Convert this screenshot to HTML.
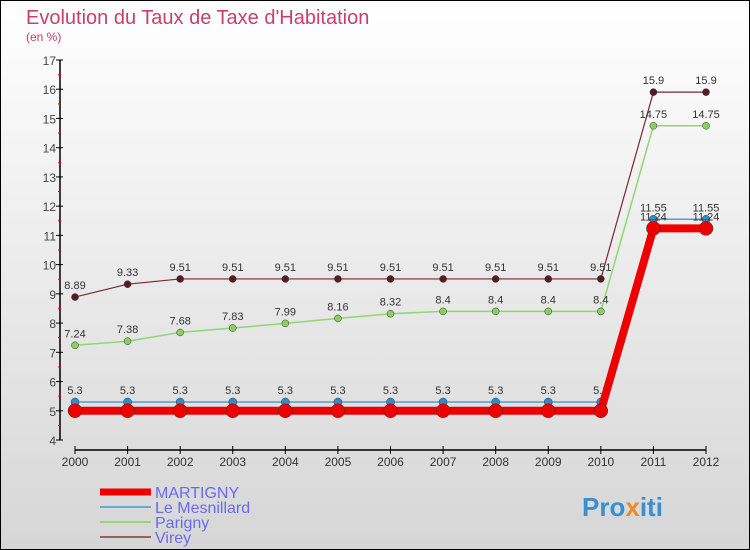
<!DOCTYPE html>
<html><head><meta charset="utf-8"><style>
body{margin:0}
svg{display:block;font-family:"Liberation Sans",sans-serif}
</style></head><body>
<svg width="750" height="550" xmlns="http://www.w3.org/2000/svg">
<defs><linearGradient id="bg" x1="0" y1="0" x2="0" y2="1"><stop offset="0" stop-color="#ffffff"/><stop offset="1" stop-color="#d6d6d6"/></linearGradient></defs>
<rect x="0.5" y="0.5" width="749" height="549" fill="url(#bg)" stroke="#000"/>
<text x="26" y="24" font-size="20" fill="#c8406a">Evolution du Taux de Taxe d'Habitation</text>
<text x="26" y="41" font-size="12" fill="#c8406a">(en %)</text>
<g id="axes"></g>
<g id="series"></g>
<g id="legend"></g>
<text x="582" y="516" font-size="26" font-weight="bold" fill="#3a8fd0">Pro<tspan fill="#f08a20">x</tspan>iti</text>
<script>
const years=[2000,2001,2002,2003,2004,2005,2006,2007,2008,2009,2010,2011,2012];
const martigny=[5,5,5,5,5,5,5,5,5,5,5,11.24,11.24];
const mesnillard=[5.3,5.3,5.3,5.3,5.3,5.3,5.3,5.3,5.3,5.3,5.3,11.55,11.55];
const parigny=[7.24,7.38,7.68,7.83,7.99,8.16,8.32,8.4,8.4,8.4,8.4,14.75,14.75];
const virey=[8.89,9.33,9.51,9.51,9.51,9.51,9.51,9.51,9.51,9.51,9.51,15.9,15.9];
const yTicks=[4,5,6,7,8,9,10,11,12,13,14,15,16,17];
const NS="http://www.w3.org/2000/svg";
const xs=i=>75+i*(706-75)/(years.length-1);
const ys=v=>440-(v-4)*(380/13);
function mk(tag,attrs,parent,text){const e=document.createElementNS(NS,tag);for(const k in attrs)e.setAttribute(k,attrs[k]);if(text!==undefined)e.textContent=text;parent.appendChild(e);return e;}
const ax=document.getElementById('axes');
let e=mk('line',{x1:60,y1:ys(17),x2:60,y2:ys(4),stroke:'#000','stroke-width':1.5},ax);


yTicks.forEach(t=>{
 mk('line',{x1:56,x2:63,y1:ys(t),y2:ys(t),stroke:'#000'},ax);
 if(t<17) mk('line',{x1:58,x2:61,y1:ys(t+0.5),y2:ys(t+0.5),stroke:'#f00'},ax);
 const l=mk('text',{x:56,y:ys(t)+5,'text-anchor':'end','font-size':12,fill:'#444'},ax,String(t));
 
 
});
e=mk('line',{x1:75,y1:450,x2:706,y2:450,stroke:'#000','stroke-width':1.5},ax);


years.forEach((y,i)=>{
 mk('line',{x1:xs(i),x2:xs(i),y1:446,y2:454,stroke:'#000'},ax);
 const l=mk('text',{x:xs(i),y:466,'text-anchor':'middle','font-size':12,fill:'#333'},ax,String(y));
 
 
});
const sg=document.getElementById('series');
function series(name,vals,color,lw,r,dot,labels){
 const g=mk('g',{},sg);
 
 
 mk('polyline',{points:vals.map((v,i)=>xs(i)+','+ys(v)).join(' '),fill:'none',stroke:color,'stroke-width':lw},g);
 vals.forEach((v,i)=>{
  const c=mk('circle',{cx:xs(i),cy:ys(v),r:r,fill:dot,stroke:'#333','stroke-width':0.5},g);
  
  
  if(labels){const t=mk('text',{x:xs(i),y:ys(v)-8,'text-anchor':'middle','font-size':11,fill:'#333'},g,String(v));
   
   }
 });
}
series('virey',virey,'#7a2a30',1.2,3.5,'#5a1a20',true);
series('parigny',parigny,'#8fd870',1.5,3.5,'#8ad060',true);
series('le-mesnillard',mesnillard,'#5a9ad0',1.5,4,'#3a88c8',true);
series('martigny',martigny,'#ee0000',8,7,'#ee0000',false);
[11,12].forEach(i=>{const t=mk('text',{x:xs(i),y:ys(martigny[i])-8,'text-anchor':'middle','font-size':11,fill:'#333'},sg,String(martigny[i]));
 
 });
const lg=document.getElementById('legend');
const items=[['MARTIGNY','#ee0000',7],['Le Mesnillard','#6aa8d0',2],['Parigny','#90d870',2],['Virey','#9a6060',2]];
items.forEach((it,k)=>{
 const y=492+k*15;
 const g=mk('g',{},lg);
 
 
 mk('line',{x1:100,x2:151,y1:y,y2:y,stroke:it[1],'stroke-width':it[2]},g);
 mk('text',{x:155,y:y+6,'font-size':16,fill:'#6a6aee'},g,it[0]);
});
</script>
</svg>
</body></html>
